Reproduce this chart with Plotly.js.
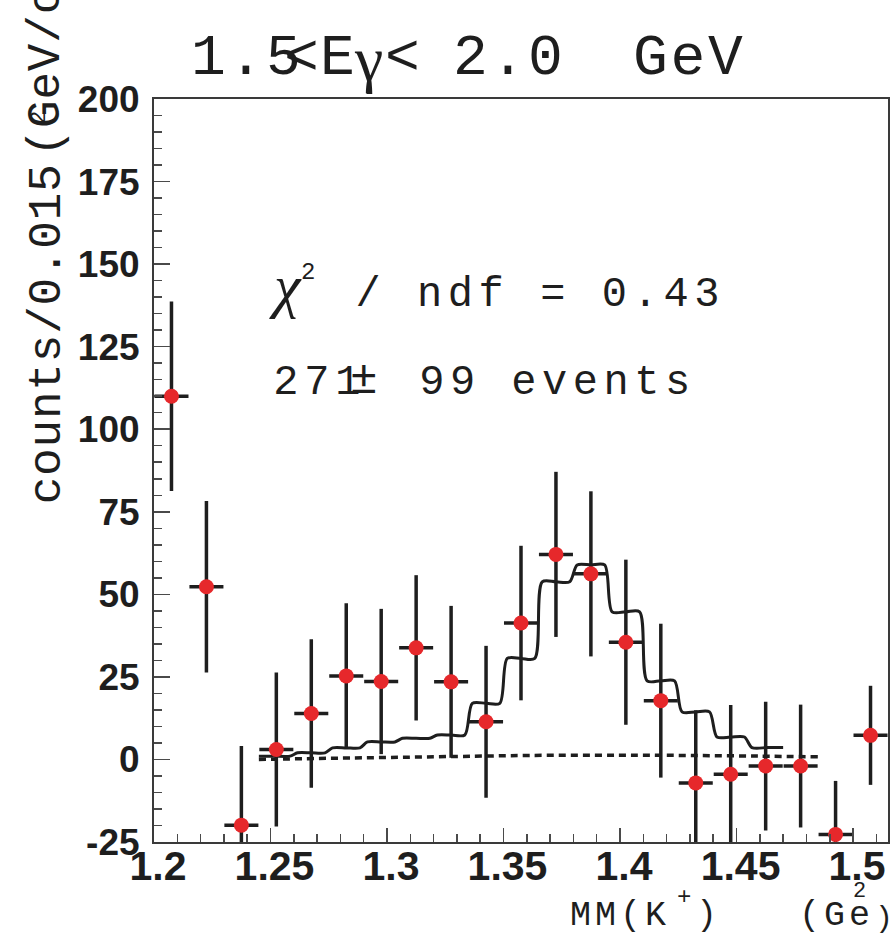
<!DOCTYPE html>
<html>
<head>
<meta charset="utf-8">
<script src="https://cdn.plot.ly/plotly-3.0.1.min.js"></script>
<style>
  html, body { margin: 0; padding: 0; background: #fff; }
  #chart { width: 895px; height: 939px; }
  .annotation[data-index="0"] .annotation-text,
  .annotation[data-index="5"] .annotation-text,
  .annotation[data-index="6"] .annotation-text { letter-spacing: 2.7px; }
  .annotation[data-index="9"] .annotation-text { letter-spacing: 5.6px; }
  .annotation[data-index="10"] .annotation-text { letter-spacing: 5.8px; }
  .annotation[data-index="12"] .annotation-text { letter-spacing: 5.5px; }
  .annotation[data-index="13"] .annotation-text,
  .annotation[data-index="14"] .annotation-text { letter-spacing: 0.8px; }
  .annotation[data-index="16"] .annotation-text,
  .annotation[data-index="19"] .annotation-text { letter-spacing: 4px; }
</style>
</head>
<body>
<div id="chart"></div>
<script>
// ---- data ----
const binCenters = [1.2075, 1.2225, 1.2375, 1.2525, 1.2675, 1.2825, 1.2975, 1.3125, 1.3275, 1.3425,
                    1.3575, 1.3725, 1.3875, 1.4025, 1.4175, 1.4325, 1.4475, 1.4625, 1.4775, 1.4925, 1.5075];
const counts     = [110, 52.3, -19.9, 3.0, 13.9, 25.3, 23.6, 33.8, 23.5, 11.4,
                    41.3, 62.1, 56.2, 35.5, 17.8, -7.1, -4.5, -2.0, -2.0, -22.7, 7.3];
const countErr   = [28.7, 26, 24, 23.3, 22.5, 22, 22, 22, 23, 23,
                    23.4, 25, 25, 25, 23.3, 22, 21, 19.5, 18.6, 16.2, 15];
const binHalfWidth = 0.0073;

// total fit histogram (signal + background), per bin
const fitBinLow  = [1.245, 1.26, 1.275, 1.29, 1.305, 1.32, 1.335, 1.35, 1.365, 1.38, 1.395, 1.41, 1.425, 1.44, 1.455];
const fitBinHigh = [1.26, 1.275, 1.29, 1.305, 1.32, 1.335, 1.35, 1.365, 1.38, 1.395, 1.41, 1.425, 1.44, 1.455, 1.47];
const fitValues  = [1.0, 2.0, 3.5, 5.3, 6.4, 7.4, 17.0, 30.6, 53.8, 58.9, 44.7, 23.8, 14.4, 6.8, 3.6];

// background curve
const bgX = [1.245, 1.29, 1.33, 1.36, 1.40, 1.43, 1.46, 1.485];
const bgY = [0.0, 0.5, 0.9, 1.2, 1.3, 1.2, 1.0, 0.8];

const xTickVals = [1.2, 1.25, 1.3, 1.35, 1.4, 1.45, 1.5];
const xTickText = ['1.2', '1.25', '1.3', '1.35', '1.4', '1.45', '1.5'];
const yTickVals = [-25, 0, 25, 50, 75, 100, 125, 150, 175, 200];
const yTickText = ['-25', '0', '25', '50', '75', '100', '125', '150', '175', '200'];

// ---- build the smoothed step line from the fit histogram ----
const inset = 0.0016;
const fitX = [], fitY = [];
for (let i = 0; i < fitValues.length; i++) {
  const lo = fitBinLow[i] + (i === 0 ? 0 : inset);
  const hi = fitBinHigh[i] - (i === fitValues.length - 1 ? 0 : inset);
  fitX.push(lo, (lo + hi) / 2, hi);
  fitY.push(fitValues[i], fitValues[i], fitValues[i]);
}

// ---- layout geometry ----
const L = 154, R = 888, T = 99, B = 842;
const px = x => (x - L) / (R - L);
const py = y => (B - y) / (B - T);

const mono = 'Liberation Mono, Courier New, monospace';
const serif = 'Liberation Serif, Times New Roman, serif';
const ink = '#1e1e1e';

function ann(text, x, y, xanchor, size, extra) {
  return Object.assign({
    text: text, xref: 'paper', yref: 'paper', x: px(x), y: py(y),
    xanchor: xanchor, yanchor: 'middle', showarrow: false,
    font: {family: mono, size: size, color: ink}
  }, extra || {});
}

const annotations = [
  ann('1.5', 247, 58, 'center', 58),                                // 0
  ann('<', 301, 58, 'center', 58),                                  // 1
  ann('E', 337, 58, 'center', 58),                                  // 2
  ann('γ', 368, 58, 'center', 64, {font: {family: serif, size: 64, color: ink}}), // 3
  ann('<', 402, 58, 'center', 58),                                  // 4
  ann('2.0', 509, 58, 'center', 58),                                // 5
  ann('GeV', 689, 58, 'center', 58),                                // 6
  ann('χ', 285, 286, 'center', 60, {font: {family: serif, size: 60, color: ink, style: 'italic'}}), // 7
  ann('2', 308, 272, 'center', 24),                                 // 8
  ann('/ ndf = 0.43', 540, 295, 'center', 42),                      // 9
  ann('271', 320, 383, 'center', 42),                               // 10
  ann('±', 364, 381, 'center', 46),                                 // 11
  ann('99 events', 557, 383, 'center', 42),                         // 12
  ann('counts/0.015', 47, 502, 'center', 46, {textangle: -90, yanchor: 'bottom'}), // 13
  ann('(GeV/c', 47, 156, 'center', 46, {textangle: -90, yanchor: 'bottom'}),       // 14
  ann('2', 40, 118, 'center', 22, {textangle: -90}),                // 15
  ann('MM(K', 620, 938, 'center', 35, {yanchor: 'bottom'}),         // 16
  ann('+', 684, 897, 'center', 24),                                 // 17
  ann(')', 706, 938, 'center', 35, {yanchor: 'bottom'}),            // 18
  ann('(Ge', 836, 938, 'center', 35, {yanchor: 'bottom'}),          // 19
  ann('2', 859, 891, 'center', 22),                                 // 20
  ann(')', 884, 938, 'center', 30, {yanchor: 'bottom'})             // 21
];

const traces = [
  {
    x: fitX, y: fitY, type: 'scatter', mode: 'lines',
    line: {color: ink, width: 3, shape: 'spline', smoothing: 0.8},
    hoverinfo: 'skip'
  },
  {
    x: bgX, y: bgY, type: 'scatter', mode: 'lines',
    line: {color: ink, width: 3.5, dash: '7px,5px', shape: 'spline'},
    hoverinfo: 'skip'
  },
  {
    x: binCenters, y: counts, type: 'scatter', mode: 'markers',
    marker: {color: '#e6282b', size: 15, line: {width: 0}},
    error_y: {type: 'data', array: countErr, visible: true, color: ink, thickness: 3.5, width: 0},
    error_x: {type: 'constant', value: binHalfWidth, visible: true, color: ink, thickness: 3.5, width: 0}
  }
];

const axisCommon = {
  showgrid: false, zeroline: false,
  showline: true, linecolor: '#3a3a3a', linewidth: 2, mirror: true,
  ticks: 'inside', tickcolor: '#4a4a4a', tickwidth: 1.5, ticklen: 16,
  tickmode: 'array'
};

const layout = {
  width: 895, height: 939,
  margin: {l: L, r: 895 - R, t: T, b: 939 - B, pad: 0},
  paper_bgcolor: '#ffffff', plot_bgcolor: '#ffffff',
  showlegend: false,
  xaxis: Object.assign({}, axisCommon, {
    range: [1.2, 1.515],
    tickvals: xTickVals, ticktext: xTickText,
    ticklen: 14,
    tickfont: {family: 'Liberation Sans, Arial, sans-serif', size: 41, color: ink, weight: 'bold'},
    ticklabelstandoff: -13, ticklabelshift: 4,
    minor: {tickmode: 'linear', tick0: 1.2, dtick: 0.01, ticks: 'inside', ticklen: 8, tickcolor: '#4a4a4a', tickwidth: 1.5}
  }),
  yaxis: Object.assign({}, axisCommon, {
    range: [-25, 200],
    tickvals: yTickVals, ticktext: yTickText,
    tickfont: {family: 'Liberation Sans, Arial, sans-serif', size: 37, color: ink, weight: 'bold'},
    ticklabelstandoff: 5,
    minor: {tickmode: 'linear', tick0: 0, dtick: 5, ticks: 'inside', ticklen: 8, tickcolor: '#4a4a4a', tickwidth: 1.5}
  }),
  annotations: annotations
};

Plotly.newPlot('chart', traces, layout, {staticPlot: true, displayModeBar: false});
</script>
</body>
</html>
